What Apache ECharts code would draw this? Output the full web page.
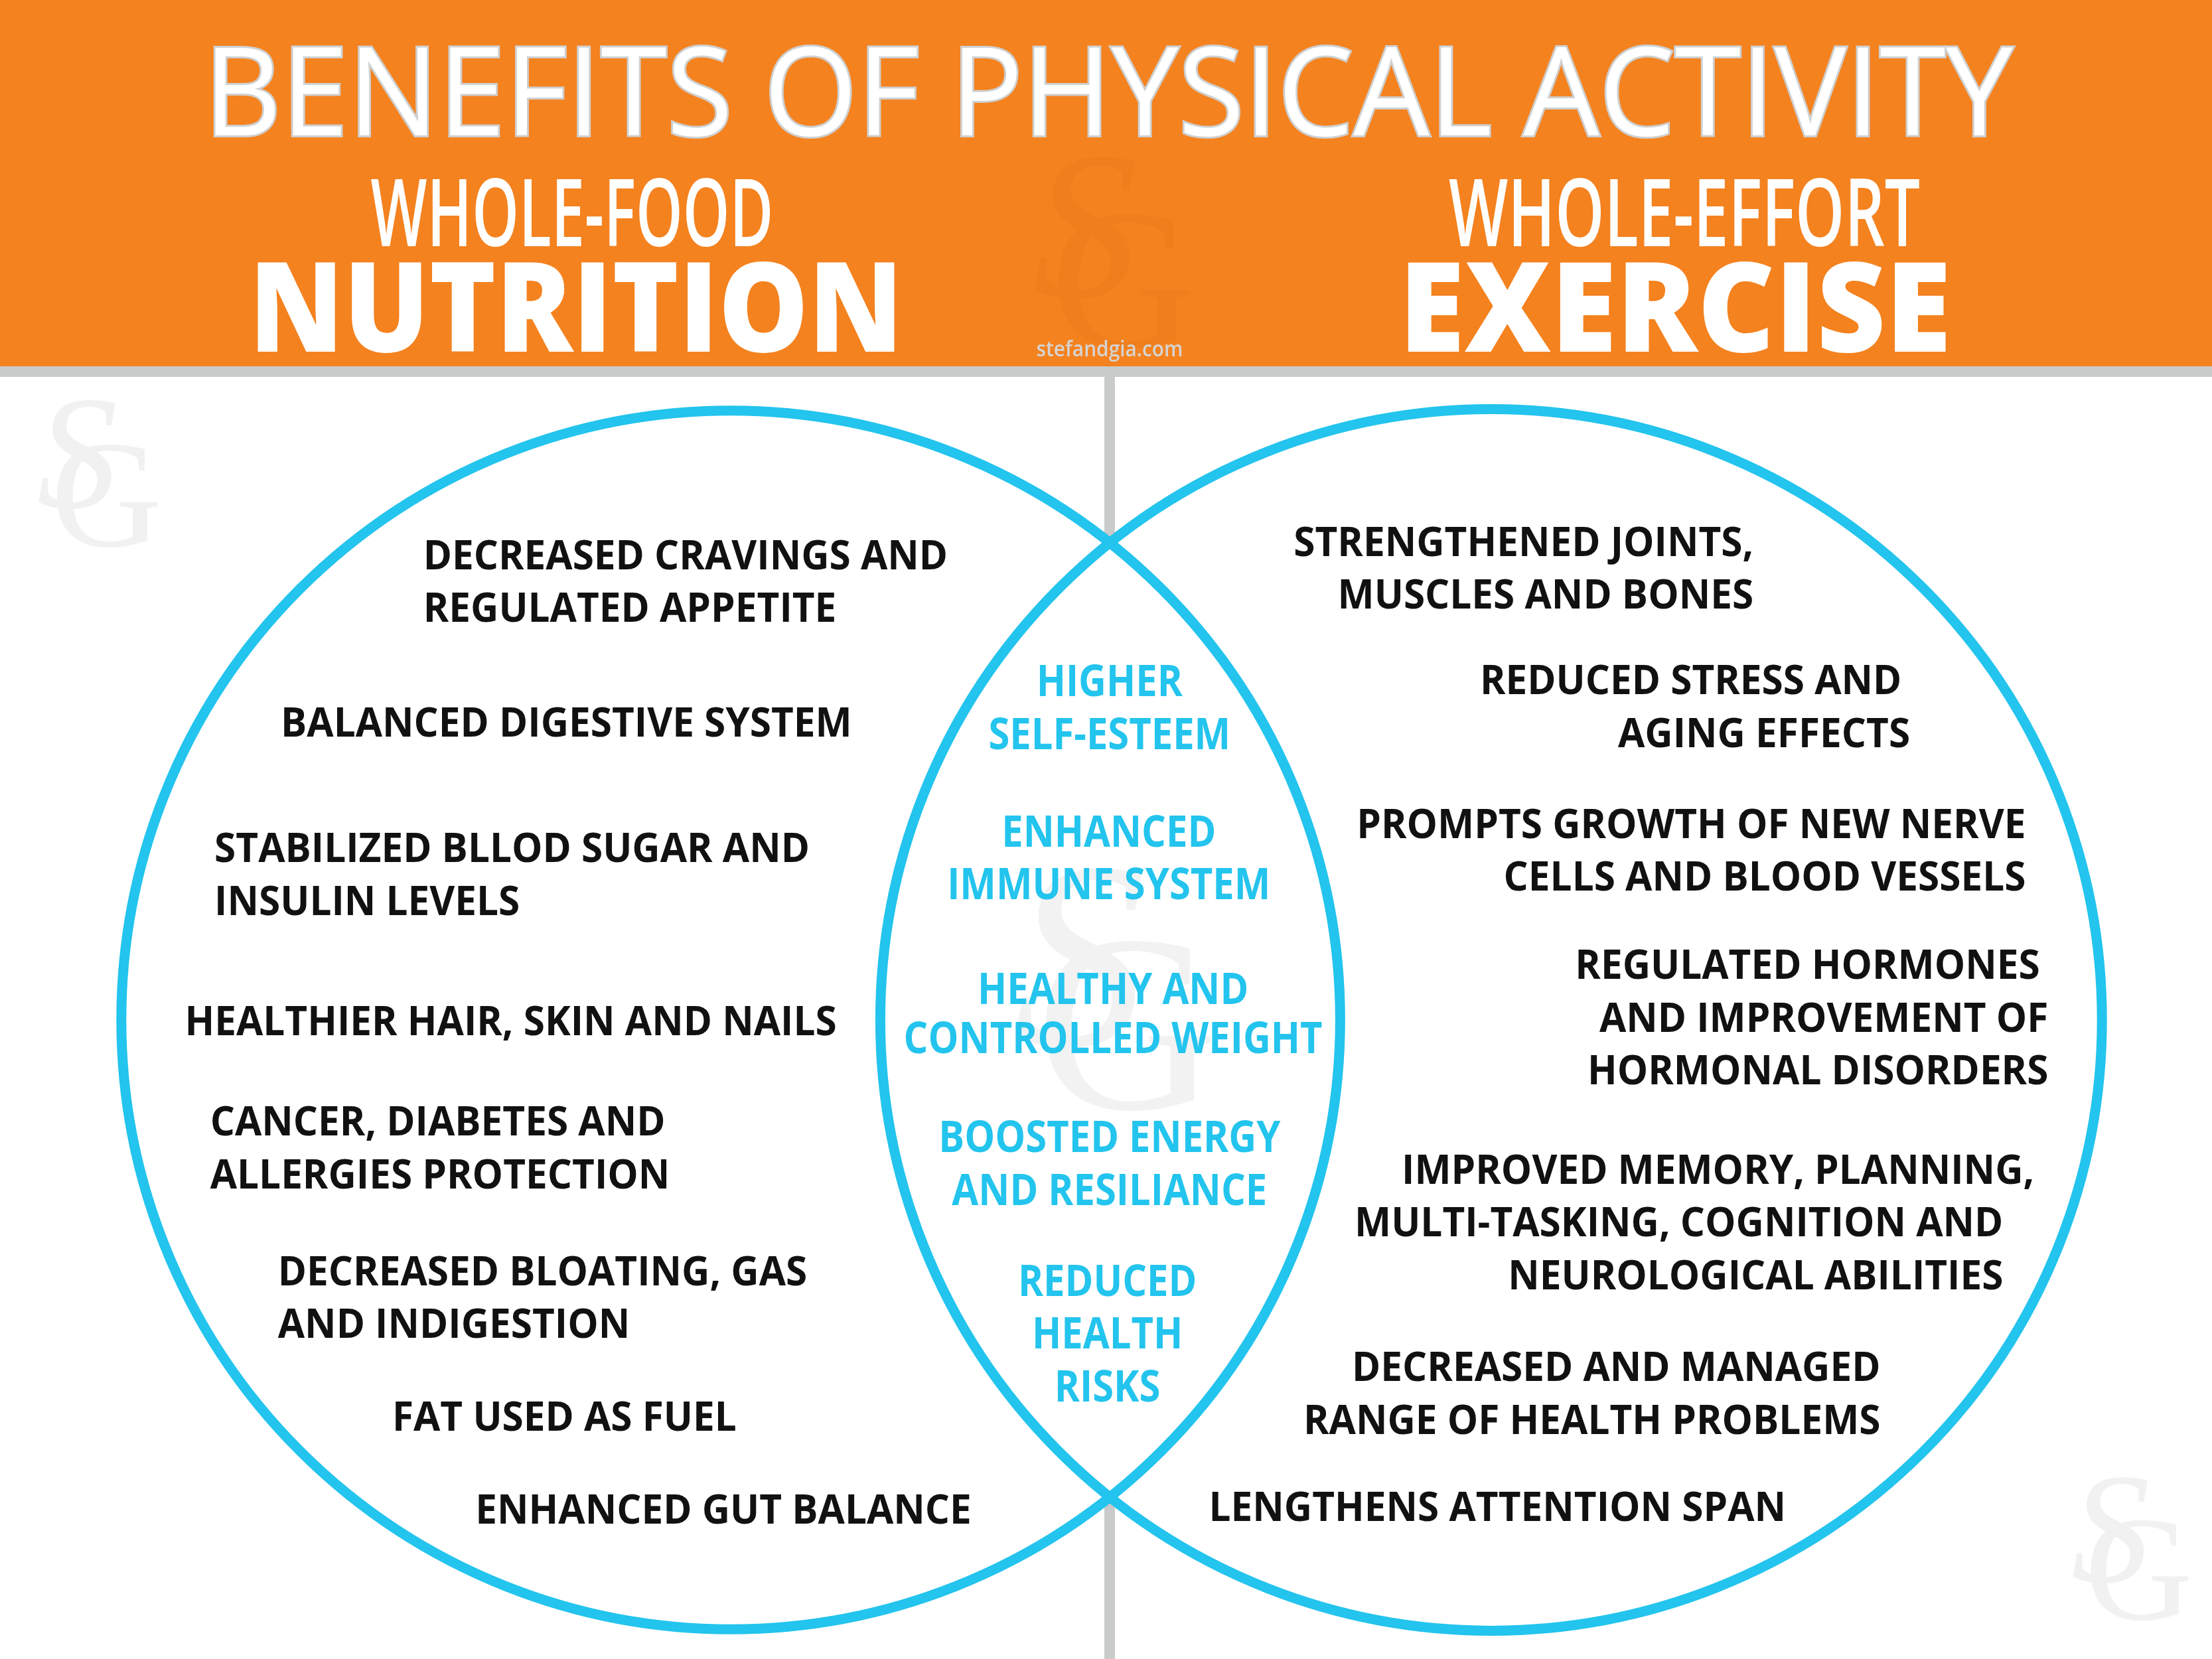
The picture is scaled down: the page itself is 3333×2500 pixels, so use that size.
<!DOCTYPE html>
<html>
<head>
<meta charset="utf-8">
<script src="https://cdn.jsdelivr.net/npm/echarts@6/dist/echarts.min.js"></script>
<style>
html,body{margin:0;padding:0;background:#ffffff;}
#chart{width:3333px;height:2500px;}
</style>
</head>
<body>
<div id="chart"></div>
<script>
// ---------- content ----------
const TITLE = 'BENEFITS OF PHYSICAL ACTIVITY';
const LEFT_HEAD = ['WHOLE-FOOD', 'NUTRITION'];
const RIGHT_HEAD = ['WHOLE-EFFORT', 'EXERCISE'];
const SITE = 'stefandgia.com';

const nutritionBenefits = [
  ['DECREASED CRAVINGS AND', 'REGULATED APPETITE'],
  ['BALANCED DIGESTIVE SYSTEM'],
  ['STABILIZED BLLOD SUGAR AND', 'INSULIN LEVELS'],
  ['HEALTHIER HAIR, SKIN AND NAILS'],
  ['CANCER, DIABETES AND', 'ALLERGIES PROTECTION'],
  ['DECREASED BLOATING, GAS', 'AND INDIGESTION'],
  ['FAT USED AS FUEL'],
  ['ENHANCED GUT BALANCE']
];
const sharedBenefits = [
  ['HIGHER', 'SELF-ESTEEM'],
  ['ENHANCED', 'IMMUNE SYSTEM'],
  ['HEALTHY AND', 'CONTROLLED WEIGHT'],
  ['BOOSTED ENERGY', 'AND RESILIANCE'],
  ['REDUCED', 'HEALTH', 'RISKS']
];
const exerciseBenefits = [
  ['STRENGTHENED JOINTS,', 'MUSCLES AND BONES'],
  ['REDUCED STRESS AND', 'AGING EFFECTS'],
  ['PROMPTS GROWTH OF NEW NERVE', 'CELLS AND BLOOD VESSELS'],
  ['REGULATED HORMONES', 'AND IMPROVEMENT OF', 'HORMONAL DISORDERS'],
  ['IMPROVED MEMORY, PLANNING,', 'MULTI-TASKING, COGNITION AND', 'NEUROLOGICAL ABILITIES'],
  ['DECREASED AND MANAGED', 'RANGE OF HEALTH PROBLEMS'],
  ['LENGTHENS ATTENTION SPAN']
];

// ---------- layout (design units: 1568 x 1176) ----------
const W = 1568, H = 1176;
const circleLayout = [[518, 723, 432], [1057, 723, 433]];
// [anchor x (or per-line list), first line y, line pitch]
const nutritionLayout = [[300, 393.5], [199, 512], [152, 601], [131, 724], [149, 795], [197, 901], [278, 1004], [337, 1070]];
const sharedLayout = [[786.5, 483], [786, 589.5], [789, 701, 35], [786.5, 806], [785, 908]];
const exerciseLayout = [[1243, 384], [[1348, 1354], 482], [1436, 584], [[1446, 1452, 1452], 684], [[1442, 1420, 1420], 829], [1333, 969], [1266, 1068]];
const PITCH = 37.4;
const Y_NUDGE = 1.8; // em-box middle vs. cap-height middle

// reference line widths (design units) used to fit the letter width of the substitute font
const bodyFit = [['DECREASED CRAVINGS AND', 378], ['HEALTHIER HAIR, SKIN AND NAILS', 456], ['PROMPTS GROWTH OF NEW NERVE', 478],
                 ['MULTI-TASKING, COGNITION AND', 451], ['LENGTHENS ATTENTION SPAN', 406], ['BALANCED DIGESTIVE SYSTEM', 413]];
const midFit = [['SELF-ESTEEM', 179], ['CONTROLLED WEIGHT', 282], ['IMMUNE SYSTEM', 232], ['BOOSTED ENERGY', 247]];

const ORANGE = '#F4821F', GREY = '#C9CACA', CYAN = '#23C4ED', INK = '#111111';
const FF = '"Open Sans", "Noto Sans", sans-serif';
const SERIF = '"Liberation Serif", "DejaVu Serif", serif';

const el = document.getElementById('chart');
const chart = echarts.init(el, null, {renderer: 'canvas'});
const PW = el.clientWidth, PH = el.clientHeight;
const k = PW / W;

const mctx = document.createElement('canvas').getContext('2d');
function textW(t, font) { mctx.font = font; return mctx.measureText(t).width; }
function fitScale(t, font, target) { return target / textW(t, font); }
function fitMany(list, font) {
  let a = 0, b = 0;
  list.forEach(([t, w]) => { a += w * k; b += textW(t, font); });
  return a / b;
}

const bodyFont = '700 61.6px ' + FF;
const bodyScale = fitMany(bodyFit, bodyFont);
const midFont = '700 65.8px ' + FF;
const midScale = fitMany(midFit, midFont);

// flatten lines
const lines = [];
function addBlocks(blocks, layout, align, color, font, sx) {
  blocks.forEach((b, i) => {
    const lay = layout[i];
    const pitch = lay[2] || PITCH;
    b.forEach((t, j) => {
      const x = Array.isArray(lay[0]) ? lay[0][j] : lay[0];
      lines.push({text: t, x: x, y: lay[1] + j * pitch + Y_NUDGE, align, color, font, sx});
    });
  });
}
addBlocks(nutritionBenefits, nutritionLayout, 'left', INK, bodyFont, bodyScale);
addBlocks(sharedBenefits, sharedLayout, 'center', CYAN, midFont, midScale);
addBlocks(exerciseBenefits, exerciseLayout, 'right', INK, bodyFont, bodyScale);

// ---------- header graphics ----------
const titleFont = '400 186px ' + FF;
const subFont = '600 141px ' + FF;
const bigFont = '800 188px ' + FF;
const siteFont = '600 33px ' + FF;

function htext(t, cx, cy, font, target, extra) {
  return {
    type: 'text', x: cx, y: cy, z: 5,
    scaleX: fitScale(t, font, target), silent: true,
    style: Object.assign({text: t, font: font, fill: '#ffffff', align: 'center', verticalAlign: 'middle'}, (extra || {}))
  };
}
function monogram(cx, cy, h, color, z) {
  const fs = h / 0.662;
  return [
    {type: 'text', x: (cx - 0.16 * h) * k, y: (cy - 0.19 * h) * k, z: z, silent: true,
     style: {text: 'S', font: 'italic 400 ' + (fs * k) + 'px ' + SERIF, fill: color, align: 'center', verticalAlign: 'middle'}},
    {type: 'text', x: (cx + 0.11 * h) * k, y: (cy + 0.19 * h) * k, z: z, silent: true,
     style: {text: 'G', font: '400 ' + (fs * 0.95 * k) + 'px ' + SERIF, fill: color, align: 'center', verticalAlign: 'middle'}}
  ];
}

const graphics = [
  {type: 'rect', z: 0, silent: true, shape: {x: 0, y: 0, width: PW, height: 259.7 * k}, style: {fill: ORANGE}},
  {type: 'rect', z: 0, silent: true, shape: {x: 0, y: 259.7 * k, width: PW, height: 7.5 * k}, style: {fill: GREY}},
  {type: 'rect', z: 0, silent: true, shape: {x: 782.8 * k, y: 267 * k, width: 7.5 * k, height: PH - 267 * k}, style: {fill: GREY}},
  ...monogram(785, 190, 99, '#EF7E1D', 1),
  htext(TITLE, 1670, 151, titleFont, 2726, {stroke: '#CFD0D0', lineWidth: 6, textShadowColor: '#C4C5C5', textShadowOffsetX: -4, textShadowOffsetY: 3, textShadowBlur: 0}),
  htext(LEFT_HEAD[0], 862, 331, subFont, 607),
  htext(LEFT_HEAD[1], 868, 476, bigFont, 985),
  htext(RIGHT_HEAD[0], 2538, 331, subFont, 710),
  htext(RIGHT_HEAD[1], 2524, 476, bigFont, 832),
  htext(SITE, 1672, 528, siteFont, 221, {fill: '#D6D3D0'}),
  ...monogram(67, 344, 76, '#F1F1F1', 1),
  ...monogram(785, 715, 125, '#F2F2F2', 3),
  ...monogram(1508, 1106, 74, '#F1F1F1', 1)
];

// ---------- option ----------
function circleItem(api, fill, stroke, lw) {
  const c = api.coord([api.value(0), api.value(1)]);
  const r = api.size([api.value(2), 0])[0];
  return {type: 'circle', shape: {cx: c[0], cy: c[1], r: r}, style: {fill: fill, stroke: stroke, lineWidth: lw}};
}

const option = {
  backgroundColor: '#ffffff',
  animation: false,
  grid: {left: 0, right: 0, top: 0, bottom: 0},
  xAxis: {type: 'value', min: 0, max: W, show: false},
  yAxis: {type: 'value', min: 0, max: H, inverse: true, show: false},
  graphic: {elements: graphics},
  series: [
    {type: 'custom', name: 'setFill', z: 2, silent: true, clip: false,
     data: circleLayout.map(c => c.slice()),
     renderItem: (p, api) => circleItem(api, '#ffffff', null, 0)},
    {type: 'custom', name: 'setOutline', z: 4, silent: true, clip: false,
     data: circleLayout.map(c => c.slice()),
     renderItem: (p, api) => circleItem(api, null, CYAN, 15)},
    {type: 'custom', name: 'benefits', z: 6, silent: true, clip: false,
     data: lines.map(l => [l.x, l.y]),
     renderItem: (p, api) => {
       const L = lines[p.dataIndex];
       const pt = api.coord([api.value(0), api.value(1)]);
       return {type: 'text', x: pt[0], y: pt[1], scaleX: L.sx,
               style: {text: L.text, font: L.font, fill: L.color, align: L.align, verticalAlign: 'middle'}};
     }}
  ]
};
chart.setOption(option);
</script>
</body>
</html>
